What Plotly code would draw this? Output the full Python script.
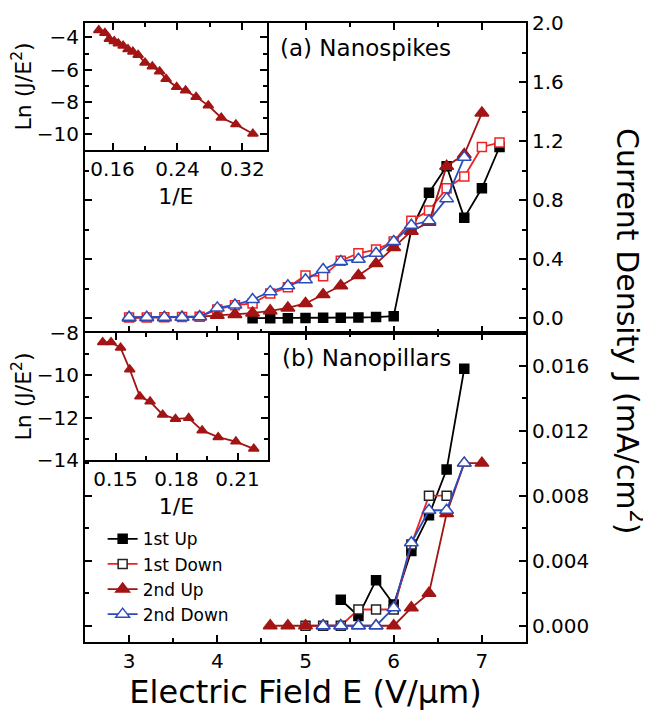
import plotly.graph_objects as go

# ---------------- data ----------------
# (a) Nanospikes
E_a_1up = [4.4, 4.6, 4.8, 5.0, 5.2, 5.4, 5.6, 5.8, 6.0, 6.2, 6.4, 6.6, 6.8, 7.0, 7.2]
J_a_1up = [0.0, 0.0, 0.0, 0.002, 0.003, 0.004, 0.005, 0.008, 0.014, 0.60, 0.85, 1.03, 0.68, 0.88, 1.16]

E_a_1dn = [3.0, 3.2, 3.4, 3.6, 3.8, 4.0, 4.2, 4.4, 4.6, 4.8, 5.0, 5.2, 5.4, 5.6, 5.8, 6.0, 6.2, 6.4, 6.6, 6.8, 7.0, 7.2]
J_a_1dn = [0.005, 0.005, 0.006, 0.008, 0.01, 0.06, 0.088, 0.10, 0.167, 0.21, 0.29, 0.285, 0.39, 0.44, 0.465, 0.52, 0.66, 0.73, 0.88, 0.96, 1.16, 1.19]

E_a_2up = [3.0, 3.2, 3.4, 3.6, 3.8, 4.0, 4.2, 4.4, 4.6, 4.8, 5.0, 5.2, 5.4, 5.6, 5.8, 6.0, 6.2, 6.4, 6.6, 6.8, 7.0]
J_a_2up = [0.002, 0.003, 0.004, 0.006, 0.01, 0.02, 0.025, 0.035, 0.05, 0.07, 0.10, 0.16, 0.22, 0.29, 0.37, 0.48, 0.59, 0.65, 1.03, 1.11, 1.39]

E_a_2dn = [3.0, 3.2, 3.4, 3.6, 3.8, 4.0, 4.2, 4.4, 4.6, 4.8, 5.0, 5.2, 5.4, 5.6, 5.8, 6.0, 6.2, 6.4, 6.6, 6.8]
J_a_2dn = [0.007, 0.007, 0.007, 0.007, 0.01, 0.07, 0.09, 0.127, 0.18, 0.22, 0.26, 0.33, 0.385, 0.40, 0.44, 0.52, 0.63, 0.66, 0.81, 1.09]

# (b) Nanopillars
E_b_1up = [5.4, 5.6, 5.8, 6.0, 6.2, 6.4, 6.6, 6.8]
J_b_1up = [0.0016, 0.0006, 0.0028, 0.0013, 0.0046, 0.0068, 0.0096, 0.0158]

E_b_1dn = [5.0, 5.2, 5.4, 5.6, 5.8, 6.0, 6.2, 6.4, 6.6]
J_b_1dn = [0.0, 0.0, 0.0, 0.001, 0.001, 0.001, 0.005, 0.008, 0.008]

E_b_2up = [4.6, 4.8, 5.0, 5.2, 5.4, 5.6, 5.8, 6.0, 6.2, 6.4, 6.6, 6.8, 7.0]
J_b_2up = [0.0, 0.0, 0.0, 0.0, 0.0, 0.0, 0.0, 0.0, 0.0011, 0.002, 0.0069, 0.010, 0.010]

E_b_2dn = [5.2, 5.4, 5.6, 5.8, 6.0, 6.2, 6.4, 6.6, 6.8]
J_b_2dn = [0.0, 0.0, 0.0, 0.0, 0.0011, 0.0051, 0.0071, 0.0071, 0.010]

# insets: FN plots
invE_a = [0.143, 0.1505, 0.156, 0.162, 0.167, 0.173, 0.179, 0.185, 0.1915, 0.2, 0.209, 0.218, 0.226, 0.239, 0.25, 0.263, 0.278, 0.294, 0.312, 0.333]
lnJ_a = [-3.55, -3.72, -4.1, -4.23, -4.37, -4.52, -4.74, -4.89, -5.09, -5.57, -5.81, -6.12, -6.59, -7.09, -7.3, -7.7, -8.24, -9.0, -9.41, -10.0]

invE_b = [0.1437, 0.1478, 0.1525, 0.157, 0.162, 0.167, 0.1732, 0.1795, 0.186, 0.1926, 0.2005, 0.2092, 0.218]
lnJ_b = [-8.44, -8.44, -8.7, -9.72, -11.0, -11.24, -11.86, -12.06, -12.02, -12.6, -12.92, -13.13, -13.47]

names = ["1st Up", "1st Down", "2nd Up", "2nd Down"]
x_ticks = [3, 4, 5, 6, 7]
ya_ticks = [0.0, 0.4, 0.8, 1.2, 1.6, 2.0]
yb_ticks = [0.0, 0.004, 0.008, 0.012, 0.016]
yb_text = ["0.000", "0.004", "0.008", "0.012", "0.016"]

# ---------------- styles ----------------
BLACK = "#000000"
RED = "#F22222"
DRED = "#A31515"
BLUE = "#2B4DBB"
FONT = "DejaVu Sans"
LW = 1.8

fig = go.Figure()

def add(x, y, xa, ya, color, symbol, mcolor, mline, name=None, show=False, size=10):
    fig.add_trace(go.Scatter(
        x=x, y=y, xaxis=xa, yaxis=ya, mode="lines+markers",
        name=name, showlegend=show,
        line=dict(color=color, width=LW),
        marker=dict(symbol=symbol, size=size, color=mcolor,
                    line=dict(color=mline, width=1.5)),
    ))

# top panel (a)
add(E_a_1up, J_a_1up, "x2", "y2", BLACK, "square", BLACK, BLACK, size=9)
add(E_a_1dn, J_a_1dn, "x2", "y2", RED, "square", "white", RED, size=9)
add(E_a_2up, J_a_2up, "x2", "y2", DRED, "triangle-up", DRED, DRED, size=12)
add(E_a_2dn, J_a_2dn, "x2", "y2", BLUE, "triangle-up", "white", BLUE, size=12)

# bottom panel (b)
add(E_b_1up, J_b_1up, "x", "y", BLACK, "square", BLACK, BLACK, names[0], True, size=9)
add(E_b_1dn, J_b_1dn, "x", "y", RED, "square", "white", "#222222", names[1], True, size=9)
add(E_b_2up, J_b_2up, "x", "y", DRED, "triangle-up", DRED, DRED, names[2], True, size=12)
add(E_b_2dn, J_b_2dn, "x", "y", BLUE, "triangle-up", "white", BLUE, names[3], True, size=12)

# insets
add(invE_a, lnJ_a, "x3", "y3", DRED, "triangle-up", DRED, DRED, size=9)
add(invE_b, lnJ_b, "x4", "y4", DRED, "triangle-up", DRED, DRED, size=9)

tickfont = dict(family=FONT, size=20, color="black")
common = dict(showline=True, linewidth=2, linecolor="black", mirror="ticks",
              ticks="inside", ticklen=7, tickwidth=1.8, tickcolor="black",
              showgrid=False, zeroline=False, tickfont=tickfont, automargin=False)
minor = dict(ticks="inside", ticklen=4, tickwidth=1.5, tickcolor="black", showgrid=False)

SPLIT = 0.4992

fig.update_layout(
    width=643, height=703,
    margin=dict(l=77, r=125, t=15, b=69),
    paper_bgcolor="white", plot_bgcolor="white",
    font=dict(family=FONT, color="black"),
    xaxis=dict(domain=[0, 1], anchor="y", range=[2.5, 7.5], tickvals=x_ticks,
               minor=dict(dtick=0.5, tick0=2.5, **minor),
               title=dict(text="Electric Field E (V/μm)", font=dict(family=FONT, size=32), standoff=7),
               **common),
    yaxis=dict(domain=[0, SPLIT], anchor="x", side="right", range=[-0.001, 0.018],
               tickvals=yb_ticks, ticktext=yb_text,
               minor=dict(dtick=0.002, tick0=0, **minor), **common),
    xaxis2=dict(domain=[0, 1], anchor="y2", range=[2.5, 7.5], tickvals=x_ticks,
                showticklabels=False, minor=dict(dtick=0.5, tick0=2.5, **minor), **common),
    yaxis2=dict(domain=[SPLIT, 1], anchor="x2", side="right", range=[-0.1, 2.0],
                tickvals=ya_ticks, tickformat=".1f",
                minor=dict(dtick=0.2, tick0=0, **minor), **common),
    xaxis3=dict(domain=[0, 0.412], anchor="y3", range=[0.126, 0.35],
                tickvals=[0.16, 0.24, 0.32], ticktext=["0.16", "0.24", "0.32"],
                minor=dict(dtick=0.04, tick0=0.12, **minor),
                title=dict(text="1/E", font=dict(family=FONT, size=22), standoff=9),
                **common),
    yaxis3=dict(domain=[0.795, 1.0], anchor="x3", range=[-11, -3.1],
                tickvals=[-10, -8, -6, -4],
                minor=dict(dtick=1, tick0=-11, **minor),
                title=dict(text="Ln (J/E<sup>2</sup>)", font=dict(family=FONT, size=22), standoff=4),
                **common),
    xaxis4=dict(domain=[0, 0.415], anchor="y4", range=[0.135, 0.225],
                tickvals=[0.15, 0.18, 0.21], ticktext=["0.15", "0.18", "0.21"],
                minor=dict(dtick=0.015, tick0=0.135, **minor),
                title=dict(text="1/E", font=dict(family=FONT, size=22), standoff=9),
                **common),
    yaxis4=dict(domain=[0.294, SPLIT], anchor="x4", range=[-14, -8],
                tickvals=[-14, -12, -10, -8],
                minor=dict(dtick=1, tick0=-14, **minor),
                title=dict(text="Ln (J/E<sup>2</sup>)", font=dict(family=FONT, size=22), standoff=4),
                **common),
    legend=dict(x=0.04, y=0.195, xanchor="left", yanchor="top",
                bgcolor="rgba(0,0,0,0)", font=dict(family=FONT, size=17),
                tracegroupgap=0, itemsizing="trace"),
    annotations=[
        dict(text="(a) Nanospikes", xref="paper", yref="paper", x=0.4376, y=0.9596,
             xanchor="left", yanchor="middle", showarrow=False, font=dict(family=FONT, size=23)),
        dict(text="(b) Nanopillars", xref="paper", yref="paper", x=0.442, y=0.4588,
             xanchor="left", yanchor="middle", showarrow=False, font=dict(family=FONT, size=23)),
        dict(text="Current Density J (mA/cm<sup>2</sup>)", xref="paper", yref="paper",
             x=1.236, y=0.5024, xanchor="center", yanchor="middle", textangle=90,
             showarrow=False, font=dict(family=FONT, size=30)),
    ],
)

fig.write_html("out.html")
